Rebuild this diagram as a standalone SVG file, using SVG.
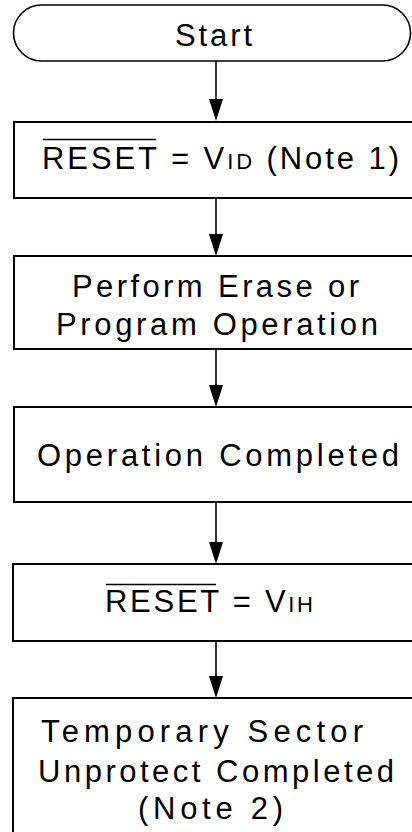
<svg xmlns="http://www.w3.org/2000/svg" width="412" height="832" viewBox="0 0 412 832">
<defs>
<style>
.box{fill:#fff;stroke:#000;stroke-width:2}
.t{font-family:"Liberation Sans",Arial,sans-serif;font-size:31px;fill:#000}
.sub{font-size:22px}
.ol{stroke:#000;stroke-width:1.6}
.c{stroke:#000;stroke-width:1.6;fill:none}
</style>
</defs>
<rect width="412" height="832" fill="#fff"/>
<g id="connectors">
<line class="c" x1="216" y1="61" x2="216" y2="99"/><path d="M209,99 L223,99 L216,121 Z"/>
<line class="c" x1="216" y1="198" x2="216" y2="234"/><path d="M209,234 L223,234 L216,256 Z"/>
<line class="c" x1="216" y1="349" x2="216" y2="385"/><path d="M209,385 L223,385 L216,407 Z"/>
<line class="c" x1="216" y1="502" x2="216" y2="542"/><path d="M209,542 L223,542 L216,564 Z"/>
<line class="c" x1="216" y1="641" x2="216" y2="676"/><path d="M209,676 L223,676 L216,698 Z"/>
</g>
<g id="start">
<rect x="13.5" y="5" width="397" height="56" rx="28" ry="28" fill="#fff" stroke="#000" stroke-width="1.6"/>
<text class="t" x="175" y="46" textLength="77" lengthAdjust="spacing">Start</text>
</g>
<g id="reset-vid">
<rect class="box" x="14" y="122" width="420" height="76"/>
<line class="ol" x1="43" y1="139.5" x2="156" y2="139.5"/>
<text class="t" x="42" y="169" textLength="357" lengthAdjust="spacing">RESET = V<tspan class="sub">ID</tspan> (Note 1)</text>
</g>
<g id="perform">
<rect class="box" x="14" y="256" width="420" height="93"/>
<text class="t" x="72" y="297" textLength="287" lengthAdjust="spacing">Perform Erase or</text>
<text class="t" x="56" y="335" textLength="322" lengthAdjust="spacing">Program Operation</text>
</g>
<g id="op-completed">
<rect class="box" x="14" y="407" width="420" height="95"/>
<text class="t" x="37" y="466" textLength="362" lengthAdjust="spacing">Operation Completed</text>
</g>
<g id="reset-vih">
<rect class="box" x="13" y="564" width="420" height="77"/>
<line class="ol" x1="106" y1="584.5" x2="216" y2="584.5"/>
<text class="t" x="105" y="612" textLength="208" lengthAdjust="spacing">RESET = V<tspan class="sub">IH</tspan></text>
</g>
<g id="unprotect">
<rect class="box" x="13" y="698" width="420" height="150"/>
<text class="t" x="41" y="742" textLength="322" lengthAdjust="spacing">Temporary Sector</text>
<text class="t" x="38" y="782" textLength="356" lengthAdjust="spacing">Unprotect Completed</text>
<text class="t" x="138" y="819" textLength="145" lengthAdjust="spacing">(Note 2)</text>
</g>
</svg>
